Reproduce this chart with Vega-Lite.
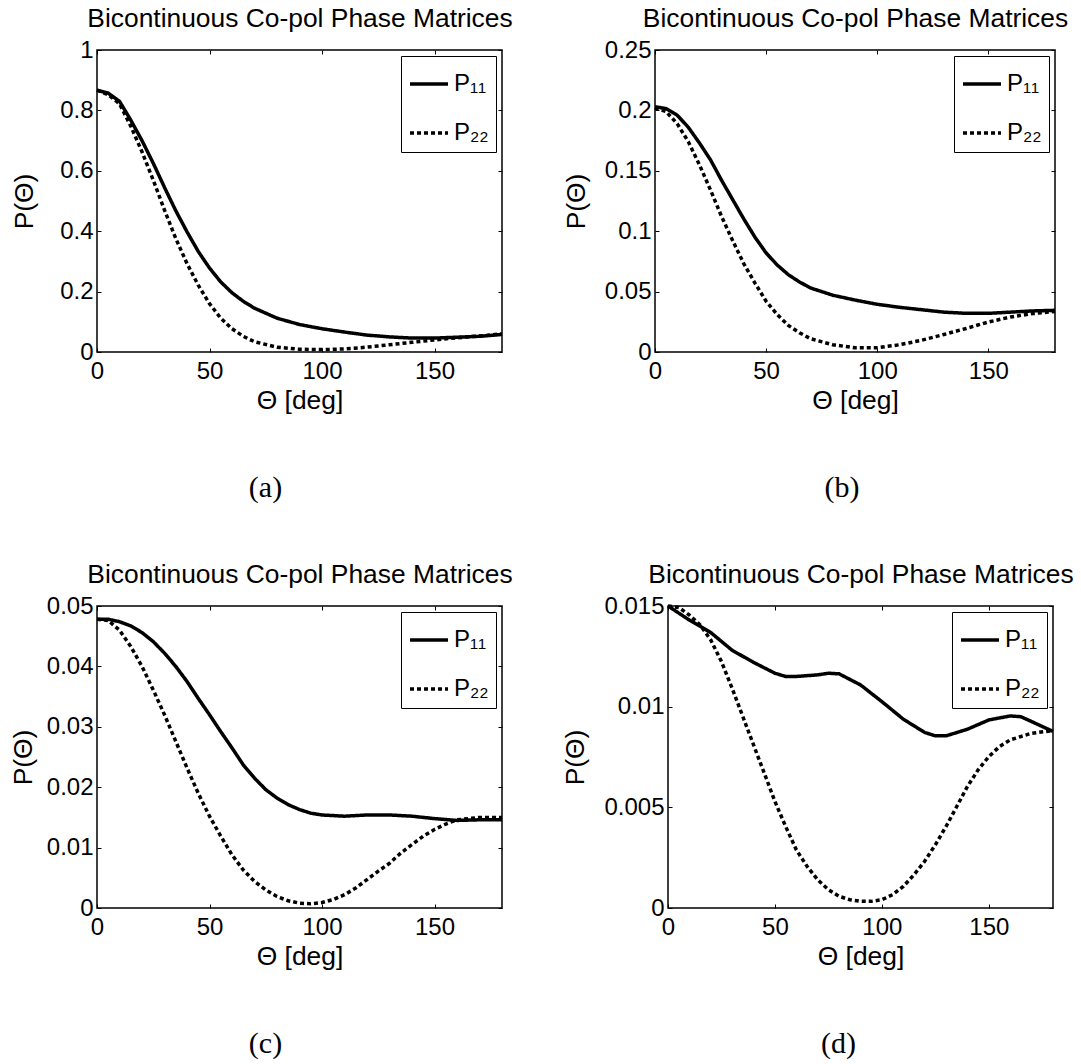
{
"$schema": "https://vega.github.io/schema/vega-lite/v6.json",
"padding": {"left": 9, "top": 4, "right": 5, "bottom": 5},
"background": "white",
"datasets": {
"a": [
{"theta":0,"P":0.867,"s":"P₁₁"},{"theta":5,"P":0.857,"s":"P₁₁"},{"theta":10,"P":0.83,"s":"P₁₁"},{"theta":15,"P":0.768,"s":"P₁₁"},{"theta":20,"P":0.70,"s":"P₁₁"},{"theta":25,"P":0.625,"s":"P₁₁"},{"theta":30,"P":0.545,"s":"P₁₁"},{"theta":35,"P":0.468,"s":"P₁₁"},{"theta":40,"P":0.398,"s":"P₁₁"},{"theta":45,"P":0.333,"s":"P₁₁"},{"theta":50,"P":0.278,"s":"P₁₁"},{"theta":55,"P":0.232,"s":"P₁₁"},{"theta":60,"P":0.196,"s":"P₁₁"},{"theta":65,"P":0.168,"s":"P₁₁"},{"theta":70,"P":0.145,"s":"P₁₁"},{"theta":80,"P":0.112,"s":"P₁₁"},{"theta":90,"P":0.091,"s":"P₁₁"},{"theta":100,"P":0.077,"s":"P₁₁"},{"theta":110,"P":0.066,"s":"P₁₁"},{"theta":120,"P":0.056,"s":"P₁₁"},{"theta":130,"P":0.05,"s":"P₁₁"},{"theta":140,"P":0.046,"s":"P₁₁"},{"theta":150,"P":0.046,"s":"P₁₁"},{"theta":160,"P":0.049,"s":"P₁₁"},{"theta":170,"P":0.052,"s":"P₁₁"},{"theta":180,"P":0.058,"s":"P₁₁"},
{"theta":0,"P":0.867,"s":"P₂₂"},{"theta":5,"P":0.852,"s":"P₂₂"},{"theta":10,"P":0.822,"s":"P₂₂"},{"theta":15,"P":0.748,"s":"P₂₂"},{"theta":20,"P":0.663,"s":"P₂₂"},{"theta":25,"P":0.569,"s":"P₂₂"},{"theta":30,"P":0.47,"s":"P₂₂"},{"theta":35,"P":0.376,"s":"P₂₂"},{"theta":40,"P":0.293,"s":"P₂₂"},{"theta":45,"P":0.221,"s":"P₂₂"},{"theta":50,"P":0.16,"s":"P₂₂"},{"theta":55,"P":0.112,"s":"P₂₂"},{"theta":60,"P":0.077,"s":"P₂₂"},{"theta":65,"P":0.052,"s":"P₂₂"},{"theta":70,"P":0.034,"s":"P₂₂"},{"theta":80,"P":0.016,"s":"P₂₂"},{"theta":90,"P":0.009,"s":"P₂₂"},{"theta":100,"P":0.008,"s":"P₂₂"},{"theta":110,"P":0.01,"s":"P₂₂"},{"theta":120,"P":0.016,"s":"P₂₂"},{"theta":130,"P":0.024,"s":"P₂₂"},{"theta":140,"P":0.032,"s":"P₂₂"},{"theta":150,"P":0.04,"s":"P₂₂"},{"theta":160,"P":0.047,"s":"P₂₂"},{"theta":170,"P":0.053,"s":"P₂₂"},{"theta":180,"P":0.06,"s":"P₂₂"}
],
"b": [
{"theta":0,"P":0.203,"s":"P₁₁"},{"theta":5,"P":0.2015,"s":"P₁₁"},{"theta":10,"P":0.196,"s":"P₁₁"},{"theta":15,"P":0.186,"s":"P₁₁"},{"theta":20,"P":0.173,"s":"P₁₁"},{"theta":25,"P":0.159,"s":"P₁₁"},{"theta":30,"P":0.142,"s":"P₁₁"},{"theta":35,"P":0.126,"s":"P₁₁"},{"theta":40,"P":0.11,"s":"P₁₁"},{"theta":45,"P":0.095,"s":"P₁₁"},{"theta":50,"P":0.082,"s":"P₁₁"},{"theta":55,"P":0.072,"s":"P₁₁"},{"theta":60,"P":0.064,"s":"P₁₁"},{"theta":65,"P":0.058,"s":"P₁₁"},{"theta":70,"P":0.053,"s":"P₁₁"},{"theta":80,"P":0.047,"s":"P₁₁"},{"theta":90,"P":0.043,"s":"P₁₁"},{"theta":100,"P":0.0395,"s":"P₁₁"},{"theta":110,"P":0.037,"s":"P₁₁"},{"theta":120,"P":0.035,"s":"P₁₁"},{"theta":130,"P":0.033,"s":"P₁₁"},{"theta":140,"P":0.032,"s":"P₁₁"},{"theta":150,"P":0.032,"s":"P₁₁"},{"theta":160,"P":0.033,"s":"P₁₁"},{"theta":170,"P":0.034,"s":"P₁₁"},{"theta":180,"P":0.0345,"s":"P₁₁"},
{"theta":0,"P":0.202,"s":"P₂₂"},{"theta":5,"P":0.199,"s":"P₂₂"},{"theta":10,"P":0.189,"s":"P₂₂"},{"theta":15,"P":0.174,"s":"P₂₂"},{"theta":20,"P":0.155,"s":"P₂₂"},{"theta":25,"P":0.134,"s":"P₂₂"},{"theta":30,"P":0.112,"s":"P₂₂"},{"theta":35,"P":0.092,"s":"P₂₂"},{"theta":40,"P":0.073,"s":"P₂₂"},{"theta":45,"P":0.057,"s":"P₂₂"},{"theta":50,"P":0.042,"s":"P₂₂"},{"theta":55,"P":0.031,"s":"P₂₂"},{"theta":60,"P":0.022,"s":"P₂₂"},{"theta":65,"P":0.016,"s":"P₂₂"},{"theta":70,"P":0.011,"s":"P₂₂"},{"theta":80,"P":0.006,"s":"P₂₂"},{"theta":90,"P":0.0035,"s":"P₂₂"},{"theta":100,"P":0.0035,"s":"P₂₂"},{"theta":110,"P":0.006,"s":"P₂₂"},{"theta":120,"P":0.0097,"s":"P₂₂"},{"theta":130,"P":0.0145,"s":"P₂₂"},{"theta":140,"P":0.0195,"s":"P₂₂"},{"theta":150,"P":0.0248,"s":"P₂₂"},{"theta":160,"P":0.029,"s":"P₂₂"},{"theta":170,"P":0.0318,"s":"P₂₂"},{"theta":180,"P":0.0335,"s":"P₂₂"}
],
"c": [
{"theta":0,"P":0.0478,"s":"P₁₁"},{"theta":5,"P":0.0478,"s":"P₁₁"},{"theta":10,"P":0.0474,"s":"P₁₁"},{"theta":15,"P":0.0467,"s":"P₁₁"},{"theta":20,"P":0.0456,"s":"P₁₁"},{"theta":25,"P":0.0441,"s":"P₁₁"},{"theta":30,"P":0.0422,"s":"P₁₁"},{"theta":35,"P":0.04,"s":"P₁₁"},{"theta":40,"P":0.0375,"s":"P₁₁"},{"theta":45,"P":0.0347,"s":"P₁₁"},{"theta":50,"P":0.032,"s":"P₁₁"},{"theta":55,"P":0.0292,"s":"P₁₁"},{"theta":60,"P":0.0265,"s":"P₁₁"},{"theta":65,"P":0.0237,"s":"P₁₁"},{"theta":70,"P":0.0215,"s":"P₁₁"},{"theta":75,"P":0.0196,"s":"P₁₁"},{"theta":80,"P":0.0182,"s":"P₁₁"},{"theta":85,"P":0.0171,"s":"P₁₁"},{"theta":90,"P":0.0163,"s":"P₁₁"},{"theta":95,"P":0.0157,"s":"P₁₁"},{"theta":100,"P":0.0154,"s":"P₁₁"},{"theta":110,"P":0.0152,"s":"P₁₁"},{"theta":120,"P":0.0154,"s":"P₁₁"},{"theta":130,"P":0.0154,"s":"P₁₁"},{"theta":140,"P":0.0152,"s":"P₁₁"},{"theta":150,"P":0.0148,"s":"P₁₁"},{"theta":160,"P":0.0145,"s":"P₁₁"},{"theta":170,"P":0.0146,"s":"P₁₁"},{"theta":180,"P":0.0146,"s":"P₁₁"},
{"theta":0,"P":0.0478,"s":"P₂₂"},{"theta":5,"P":0.0476,"s":"P₂₂"},{"theta":10,"P":0.046,"s":"P₂₂"},{"theta":15,"P":0.0433,"s":"P₂₂"},{"theta":20,"P":0.04,"s":"P₂₂"},{"theta":25,"P":0.0361,"s":"P₂₂"},{"theta":30,"P":0.032,"s":"P₂₂"},{"theta":35,"P":0.0276,"s":"P₂₂"},{"theta":40,"P":0.0232,"s":"P₂₂"},{"theta":45,"P":0.019,"s":"P₂₂"},{"theta":50,"P":0.0152,"s":"P₂₂"},{"theta":55,"P":0.0119,"s":"P₂₂"},{"theta":60,"P":0.0088,"s":"P₂₂"},{"theta":65,"P":0.0063,"s":"P₂₂"},{"theta":70,"P":0.0044,"s":"P₂₂"},{"theta":75,"P":0.003,"s":"P₂₂"},{"theta":80,"P":0.0019,"s":"P₂₂"},{"theta":85,"P":0.0012,"s":"P₂₂"},{"theta":90,"P":0.0008,"s":"P₂₂"},{"theta":95,"P":0.0007,"s":"P₂₂"},{"theta":100,"P":0.0009,"s":"P₂₂"},{"theta":105,"P":0.0014,"s":"P₂₂"},{"theta":110,"P":0.0022,"s":"P₂₂"},{"theta":115,"P":0.0033,"s":"P₂₂"},{"theta":120,"P":0.0047,"s":"P₂₂"},{"theta":125,"P":0.0061,"s":"P₂₂"},{"theta":130,"P":0.0074,"s":"P₂₂"},{"theta":135,"P":0.0091,"s":"P₂₂"},{"theta":140,"P":0.0105,"s":"P₂₂"},{"theta":145,"P":0.0119,"s":"P₂₂"},{"theta":150,"P":0.013,"s":"P₂₂"},{"theta":155,"P":0.0139,"s":"P₂₂"},{"theta":160,"P":0.0146,"s":"P₂₂"},{"theta":170,"P":0.015,"s":"P₂₂"},{"theta":180,"P":0.015,"s":"P₂₂"}
],
"d": [
{"theta":0,"P":0.015,"s":"P₁₁"},{"theta":10,"P":0.0143,"s":"P₁₁"},{"theta":20,"P":0.01368,"s":"P₁₁"},{"theta":30,"P":0.0128,"s":"P₁₁"},{"theta":40,"P":0.0122,"s":"P₁₁"},{"theta":50,"P":0.01166,"s":"P₁₁"},{"theta":55,"P":0.0115,"s":"P₁₁"},{"theta":60,"P":0.0115,"s":"P₁₁"},{"theta":70,"P":0.01158,"s":"P₁₁"},{"theta":75,"P":0.01166,"s":"P₁₁"},{"theta":80,"P":0.01163,"s":"P₁₁"},{"theta":90,"P":0.01108,"s":"P₁₁"},{"theta":100,"P":0.01025,"s":"P₁₁"},{"theta":110,"P":0.00938,"s":"P₁₁"},{"theta":120,"P":0.00872,"s":"P₁₁"},{"theta":125,"P":0.00855,"s":"P₁₁"},{"theta":130,"P":0.00855,"s":"P₁₁"},{"theta":140,"P":0.00888,"s":"P₁₁"},{"theta":150,"P":0.00934,"s":"P₁₁"},{"theta":160,"P":0.00954,"s":"P₁₁"},{"theta":165,"P":0.0095,"s":"P₁₁"},{"theta":170,"P":0.00926,"s":"P₁₁"},{"theta":180,"P":0.00877,"s":"P₁₁"},
{"theta":0,"P":0.015,"s":"P₂₂"},{"theta":5,"P":0.01493,"s":"P₂₂"},{"theta":10,"P":0.01455,"s":"P₂₂"},{"theta":15,"P":0.01406,"s":"P₂₂"},{"theta":20,"P":0.01331,"s":"P₂₂"},{"theta":25,"P":0.01224,"s":"P₂₂"},{"theta":30,"P":0.01091,"s":"P₂₂"},{"theta":35,"P":0.0095,"s":"P₂₂"},{"theta":40,"P":0.0081,"s":"P₂₂"},{"theta":45,"P":0.0067,"s":"P₂₂"},{"theta":50,"P":0.00529,"s":"P₂₂"},{"theta":55,"P":0.00405,"s":"P₂₂"},{"theta":60,"P":0.00289,"s":"P₂₂"},{"theta":65,"P":0.00207,"s":"P₂₂"},{"theta":70,"P":0.0014,"s":"P₂₂"},{"theta":75,"P":0.00091,"s":"P₂₂"},{"theta":80,"P":0.00058,"s":"P₂₂"},{"theta":85,"P":0.00041,"s":"P₂₂"},{"theta":90,"P":0.00033,"s":"P₂₂"},{"theta":95,"P":0.00033,"s":"P₂₂"},{"theta":100,"P":0.00041,"s":"P₂₂"},{"theta":105,"P":0.00066,"s":"P₂₂"},{"theta":110,"P":0.00107,"s":"P₂₂"},{"theta":115,"P":0.00165,"s":"P₂₂"},{"theta":120,"P":0.00232,"s":"P₂₂"},{"theta":125,"P":0.00314,"s":"P₂₂"},{"theta":130,"P":0.00405,"s":"P₂₂"},{"theta":135,"P":0.00504,"s":"P₂₂"},{"theta":140,"P":0.00604,"s":"P₂₂"},{"theta":145,"P":0.00686,"s":"P₂₂"},{"theta":150,"P":0.00752,"s":"P₂₂"},{"theta":155,"P":0.00802,"s":"P₂₂"},{"theta":160,"P":0.00835,"s":"P₂₂"},{"theta":170,"P":0.00868,"s":"P₂₂"},{"theta":180,"P":0.00881,"s":"P₂₂"}
]
},
"columns": 2,
"align": "none",
"spacing": {"row": 55, "column": 49},
"concat": [
{"width": 405, "height": 302, "title": {"text": "(a)", "dx": -34}, "data": {"name": "a"},
 "layer": [
  {"transform": [{"filter": "datum.s === 'P₁₁'"}], "mark": {"type": "line", "color": "black", "strokeWidth": 3.5},
   "encoding": {
    "x": {"field": "theta", "type": "quantitative", "scale": {"domain": [0, 180], "nice": false}, "axis": {"values": [0, 50, 100, 150], "format": ".3~f", "title": "Θ [deg]"}},
    "y": {"field": "P", "type": "quantitative", "scale": {"domain": [0, 1], "nice": false}, "axis": {"values": [0, 0.2, 0.4, 0.6, 0.8, 1], "format": ".3~f", "title": "P(Θ)", "titlePadding": 21}},
    "strokeDash": {"field": "s", "type": "nominal", "scale": {"domain": ["P₁₁", "P₂₂"], "range": [[1, 0], [4, 3]]}, "legend": {"title": null}}}},
  {"transform": [{"filter": "datum.s === 'P₂₂'"}], "mark": {"type": "line", "color": "black", "strokeWidth": 3.5},
   "encoding": {
    "x": {"field": "theta", "type": "quantitative", "axis": {"orient": "top", "values": [0, 50, 100, 150], "labels": false, "title": "Bicontinuous Co-pol Phase Matrices"}},
    "y": {"field": "P", "type": "quantitative", "axis": {"orient": "right", "values": [0, 0.2, 0.4, 0.6, 0.8, 1], "labels": false, "title": null}},
    "strokeDash": {"field": "s", "type": "nominal", "legend": {"title": null}}}}
 ],
 "resolve": {"axis": {"x": "independent", "y": "independent"}}},
{"width": 400, "height": 302, "title": {"text": "(b)", "dx": -13}, "data": {"name": "b"},
 "layer": [
  {"transform": [{"filter": "datum.s === 'P₁₁'"}], "mark": {"type": "line", "color": "black", "strokeWidth": 3.5},
   "encoding": {
    "x": {"field": "theta", "type": "quantitative", "scale": {"domain": [0, 180], "nice": false}, "axis": {"values": [0, 50, 100, 150], "format": ".3~f", "title": "Θ [deg]"}},
    "y": {"field": "P", "type": "quantitative", "scale": {"domain": [0, 0.25], "nice": false}, "axis": {"values": [0, 0.05, 0.1, 0.15, 0.2, 0.25], "format": ".3~f", "title": "P(Θ)"}},
    "strokeDash": {"field": "s", "type": "nominal", "scale": {"domain": ["P₁₁", "P₂₂"], "range": [[1, 0], [4, 3]]}, "legend": {"title": null}}}},
  {"transform": [{"filter": "datum.s === 'P₂₂'"}], "mark": {"type": "line", "color": "black", "strokeWidth": 3.5},
   "encoding": {
    "x": {"field": "theta", "type": "quantitative", "axis": {"orient": "top", "values": [0, 50, 100, 150], "labels": false, "title": "Bicontinuous Co-pol Phase Matrices"}},
    "y": {"field": "P", "type": "quantitative", "axis": {"orient": "right", "values": [0, 0.05, 0.1, 0.15, 0.2, 0.25], "labels": false, "title": null}},
    "strokeDash": {"field": "s", "type": "nominal", "legend": {"title": null}}}}
 ],
 "resolve": {"axis": {"x": "independent", "y": "independent"}}},
{"width": 405, "height": 302, "title": {"text": "(c)", "dx": -34}, "data": {"name": "c"},
 "layer": [
  {"transform": [{"filter": "datum.s === 'P₁₁'"}], "mark": {"type": "line", "color": "black", "strokeWidth": 3.5},
   "encoding": {
    "x": {"field": "theta", "type": "quantitative", "scale": {"domain": [0, 180], "nice": false}, "axis": {"values": [0, 50, 100, 150], "format": ".3~f", "title": "Θ [deg]"}},
    "y": {"field": "P", "type": "quantitative", "scale": {"domain": [0, 0.05], "nice": false}, "axis": {"values": [0, 0.01, 0.02, 0.03, 0.04, 0.05], "format": ".3~f", "title": "P(Θ)", "titlePadding": 9}},
    "strokeDash": {"field": "s", "type": "nominal", "scale": {"domain": ["P₁₁", "P₂₂"], "range": [[1, 0], [4, 3]]}, "legend": {"title": null}}}},
  {"transform": [{"filter": "datum.s === 'P₂₂'"}], "mark": {"type": "line", "color": "black", "strokeWidth": 3.5},
   "encoding": {
    "x": {"field": "theta", "type": "quantitative", "axis": {"orient": "top", "values": [0, 50, 100, 150], "labels": false, "title": "Bicontinuous Co-pol Phase Matrices"}},
    "y": {"field": "P", "type": "quantitative", "axis": {"orient": "right", "values": [0, 0.01, 0.02, 0.03, 0.04, 0.05], "labels": false, "title": null}},
    "strokeDash": {"field": "s", "type": "nominal", "legend": {"title": null}}}}
 ],
 "resolve": {"axis": {"x": "independent", "y": "independent"}}},
{"width": 385, "height": 302, "title": {"text": "(d)", "dx": -22}, "data": {"name": "d"},
 "layer": [
  {"transform": [{"filter": "datum.s === 'P₁₁'"}], "mark": {"type": "line", "color": "black", "strokeWidth": 3.5},
   "encoding": {
    "x": {"field": "theta", "type": "quantitative", "scale": {"domain": [0, 180], "nice": false}, "axis": {"values": [0, 50, 100, 150], "format": ".3~f", "title": "Θ [deg]"}},
    "y": {"field": "P", "type": "quantitative", "scale": {"domain": [0, 0.015], "nice": false}, "axis": {"values": [0, 0.005, 0.01, 0.015], "format": ".3~f", "title": "P(Θ)"}},
    "strokeDash": {"field": "s", "type": "nominal", "scale": {"domain": ["P₁₁", "P₂₂"], "range": [[1, 0], [4, 3]]}, "legend": {"title": null}}}},
  {"transform": [{"filter": "datum.s === 'P₂₂'"}], "mark": {"type": "line", "color": "black", "strokeWidth": 3.5},
   "encoding": {
    "x": {"field": "theta", "type": "quantitative", "axis": {"orient": "top", "values": [0, 50, 100, 150], "labels": false, "title": "Bicontinuous Co-pol Phase Matrices"}},
    "y": {"field": "P", "type": "quantitative", "axis": {"orient": "right", "values": [0, 0.005, 0.01, 0.015], "labels": false, "title": null}},
    "strokeDash": {"field": "s", "type": "nominal", "legend": {"title": null}}}}
 ],
 "resolve": {"axis": {"x": "independent", "y": "independent"}}}
],
"resolve": {"scale": {"strokeDash": "independent"}, "legend": {"strokeDash": "independent"}},
"config": {
 "font": "Liberation Sans",
 "view": {"stroke": "black", "strokeWidth": 1.5},
 "axis": {"grid": false, "domain": false, "tickColor": "black", "tickSize": -4, "tickWidth": 1, "labelFontSize": 24, "labelColor": "black", "labelPadding": 8, "labelFlush": false, "labelOverlap": false, "titleFontSize": 26.4, "titleFontWeight": "normal", "titleColor": "black"},
 "axisLeft": {"titlePadding": 14},
 "axisBottom": {"titlePadding": 4, "labelPadding": 11},
 "axisTop": {"titlePadding": 17},
 "legend": {"orient": "top-right", "offset": 6, "strokeColor": "black", "fillColor": "white", "padding": 7, "symbolType": "stroke", "symbolStrokeWidth": 3.5, "symbolSize": 1444, "symbolStrokeColor": "black", "labelFontSize": 24, "labelColor": "black", "labelOffset": 4, "rowPadding": 16, "labelFont": "Liberation Sans"},
 "title": {"font": "Liberation Serif", "fontSize": 30, "fontWeight": "normal", "orient": "bottom", "anchor": "middle", "offset": 60, "color": "black"}
}
}
